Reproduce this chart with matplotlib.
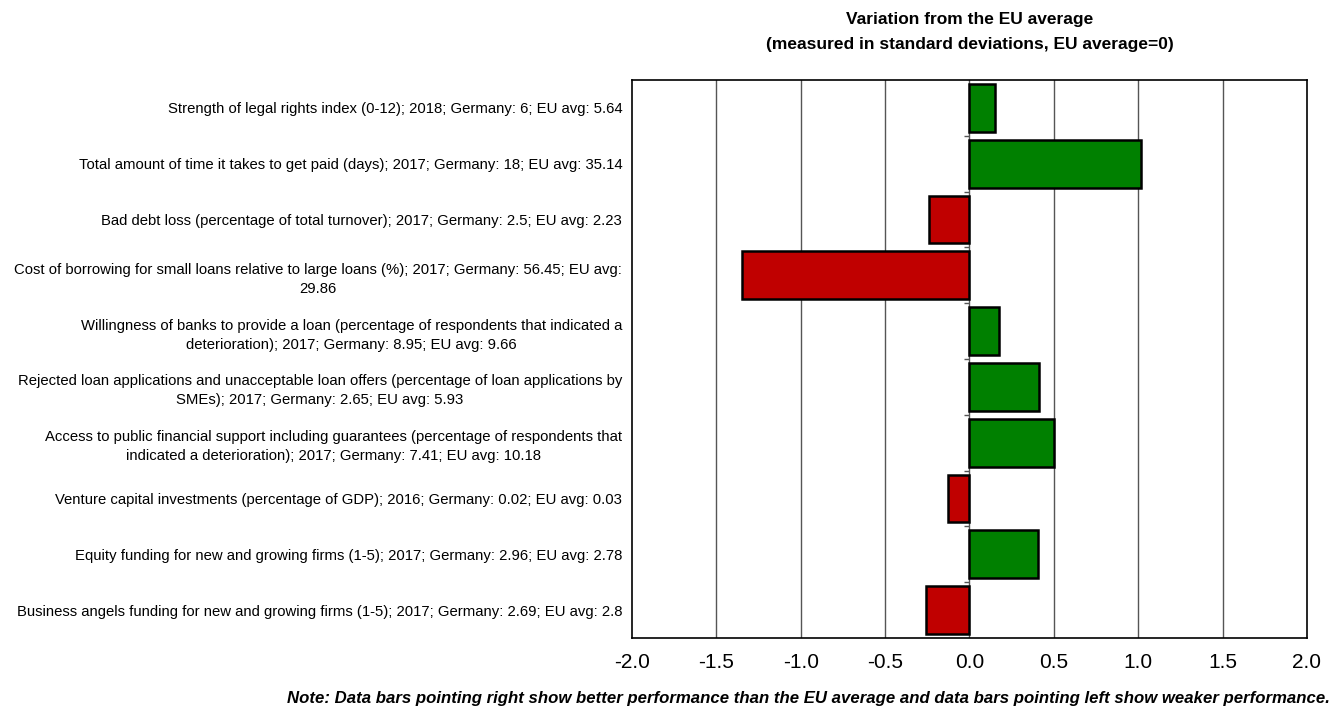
import matplotlib.pyplot as plt
import numpy as np

# Indicator labels (top to bottom as in the chart)
labels = [
    'Strength of legal rights index (0-12); 2018; Germany: 6; EU avg: 5.64',
    'Total amount of time it takes to get paid (days); 2017; Germany: 18; EU avg: 35.14',
    'Bad debt loss (percentage of total turnover); 2017; Germany: 2.5; EU avg: 2.23',
    'Cost of borrowing for small loans relative to large loans (%); 2017; Germany: 56.45; EU avg:\n29.86',
    'Willingness of banks to provide a loan (percentage of respondents that indicated a\ndeterioration); 2017; Germany: 8.95; EU avg: 9.66',
    'Rejected loan applications and unacceptable loan offers (percentage of loan applications by\nSMEs); 2017; Germany: 2.65; EU avg: 5.93',
    'Access to public financial support including guarantees (percentage of respondents that\nindicated a deterioration); 2017; Germany: 7.41; EU avg: 10.18',
    'Venture capital investments (percentage of GDP); 2016; Germany: 0.02; EU avg: 0.03',
    'Equity funding for new and growing firms (1-5); 2017; Germany: 2.96; EU avg: 2.78',
    'Business angels funding for new and growing firms (1-5); 2017; Germany: 2.69; EU avg: 2.8',
]
# Variation from EU average in standard deviations
values = [0.15, 1.015, -0.24, -1.345, 0.175, 0.41, 0.50, -0.13, 0.405, -0.255]
xticks = [-2.0, -1.5, -1.0, -0.5, 0.0, 0.5, 1.0, 1.5, 2.0]

plt.rcParams['font.family'] = ['Liberation Sans', 'DejaVu Sans']

green = '#008000'
red = '#C00000'

fig = plt.figure(figsize=(13.38, 7.13), dpi=100)
ax = fig.add_axes([0.4723, 0.1052, 0.5045, 0.7826])

n = len(values)
ypos = np.arange(n)
colors = [green if v >= 0 else red for v in values]

# vertical grid lines behind bars
for xv in xticks[1:-1]:
    ax.axvline(xv, color='#555555', linewidth=1.0, zorder=0)

ax.barh(ypos, values, height=0.86, color=colors, edgecolor='black',
        linewidth=1.8, zorder=3)

# small tick marks on the zero line between categories
bounds = np.arange(n - 1) + 0.5
ax.hlines(bounds, -0.035, 0, color='#555555', linewidth=1.0, zorder=2)

ax.set_xlim(-2, 2)
ax.set_ylim(n - 0.5, -0.5)
ax.set_xticks(xticks)
ax.set_xticklabels(['%.1f' % t for t in xticks], fontsize=15)
ax.tick_params(axis='x', length=0, pad=11)
ax.set_yticks(ypos)
ax.set_yticklabels(labels, fontsize=10.7)
for t in ax.get_yticklabels():
    t.set_multialignment('center')
    t.set_linespacing(1.45)
ax.tick_params(axis='y', length=0, pad=7)

for sp in ax.spines.values():
    sp.set_color('black')
    sp.set_linewidth(1.2)

fig.text(0.7245, 0.983, 'Variation from the EU average\n(measured in standard deviations, EU average=0)',
         ha='center', va='top', fontsize=12.5, fontweight='bold', linespacing=1.85)

fig.text(0.994, 0.010,
         'Note: Data bars pointing right show better performance than the EU average and data bars pointing left show weaker performance.',
         ha='right', va='bottom', fontsize=12.1, fontweight='bold', style='italic')

fig.savefig('out.png', dpi=100)
